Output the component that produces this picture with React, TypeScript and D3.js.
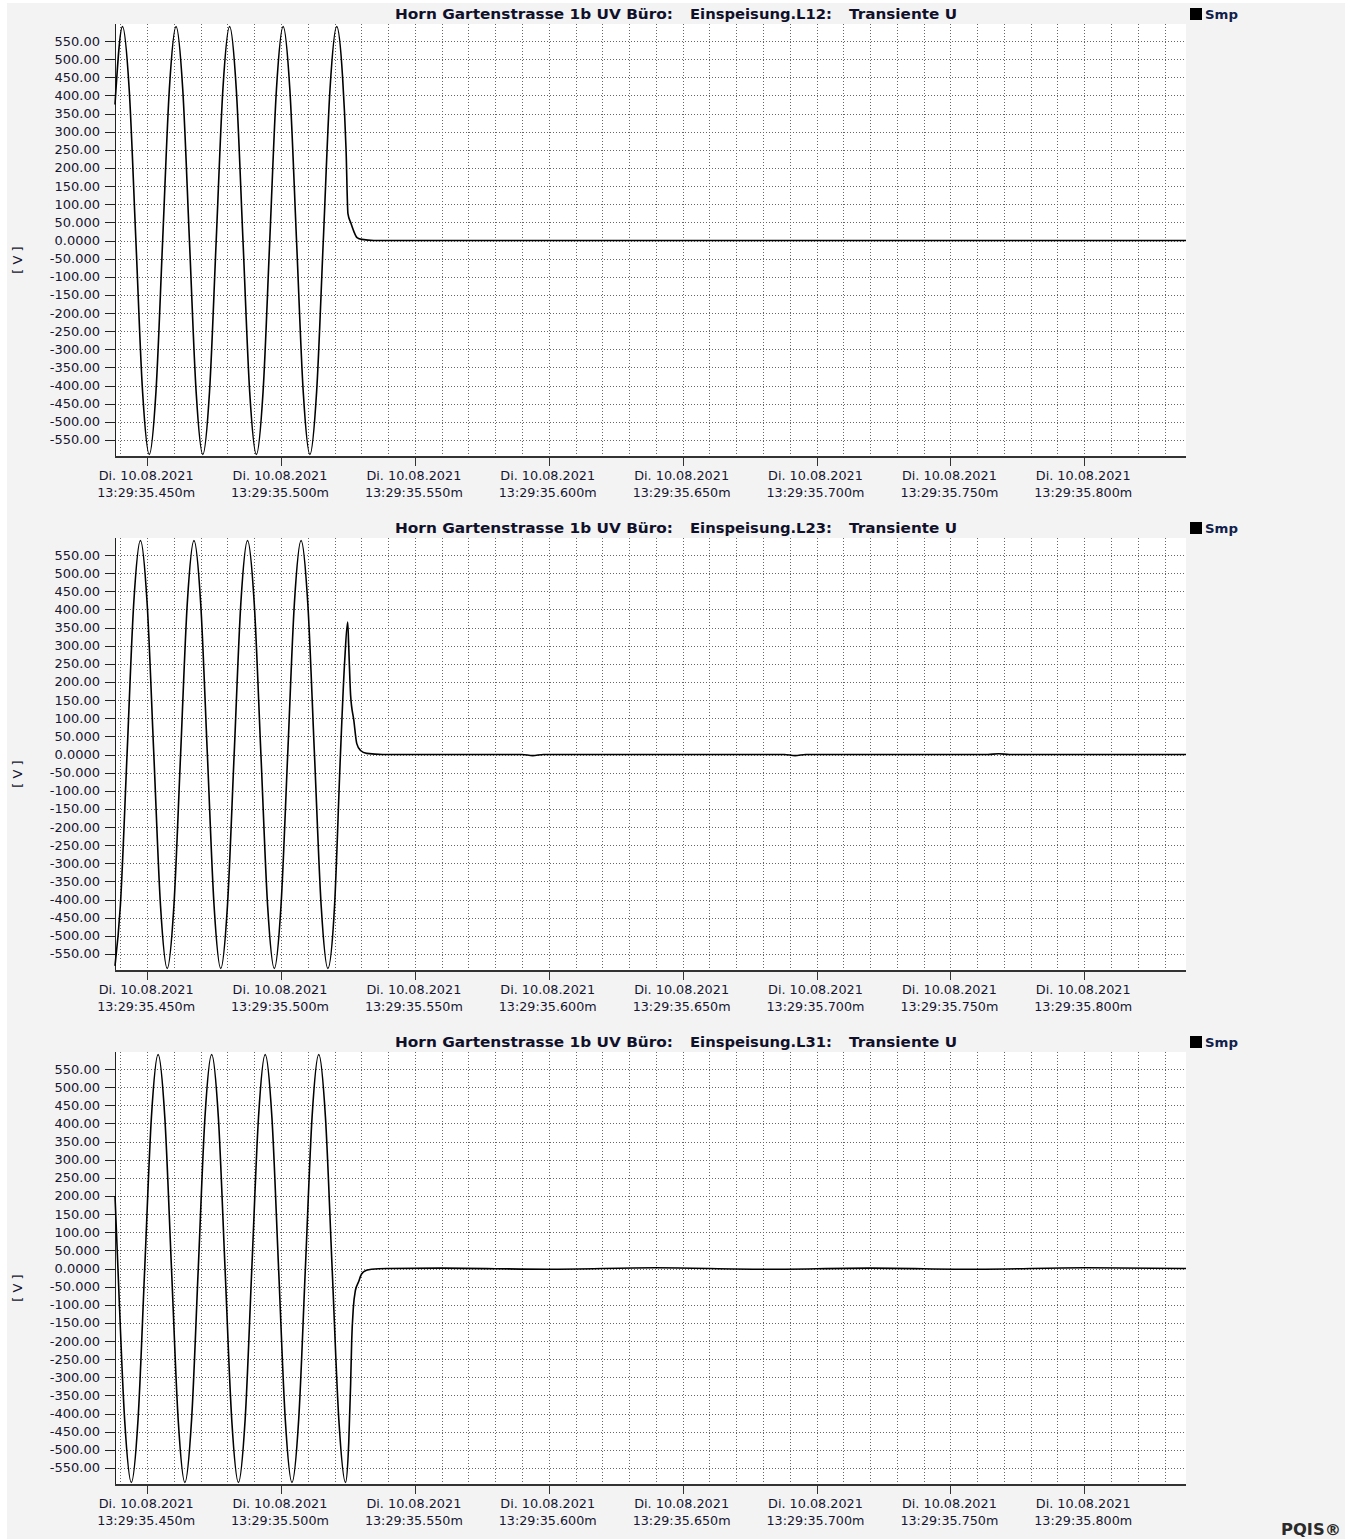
import * as d3 from 'd3';
import React from 'react';

const WIDTH = 1347;
const HEIGHT = 1539;

// x axis: milliseconds after 13:29:35
const xTickMs = [450, 500, 550, 600, 650, 700, 750, 800];
const xTickDate = 'Di. 10.08.2021';
const yTickValues = [550, 500, 450, 400, 350, 300, 250, 200, 150, 100, 50, 0,
  -50, -100, -150, -200, -250, -300, -350, -400, -450, -500, -550];

// samples: [ms, volts]
const l12: [number, number][] = [
  [438.0, 375], [440.8, 590], [443.3, 417], [445.8, 0], [448.3, -417], [450.8, -590],
  [453.3, -417], [455.8, 0], [458.3, 417], [460.8, 590], [463.3, 417], [465.8, 0],
  [468.3, -417], [470.8, -590], [473.3, -417], [475.8, 0], [478.3, 417], [480.8, 590],
  [483.3, 417], [485.8, 0], [488.3, -417], [490.8, -590], [493.3, -417], [495.8, 0],
  [498.3, 417], [500.8, 590], [503.3, 417], [505.8, 0], [508.3, -417], [510.8, -590],
  [513.3, -417], [515.8, 0], [518.3, 417], [520.8, 590], [523.0, 450], [524.3, 250],
  [525.0, 74], [526.0, 50], [527.2, 25], [528.4, 8], [530.2, 3], [534.7, 0], [838.0, 0],
];

const l23: [number, number][] = [
  [438.0, -583], [440.0, -417], [442.5, 0], [445.0, 417], [447.5, 590], [450.0, 417],
  [452.5, 0], [455.0, -417], [457.5, -590], [460.0, -417], [462.5, 0], [465.0, 417],
  [467.5, 590], [470.0, 417], [472.5, 0], [475.0, -417], [477.5, -590], [480.0, -417],
  [482.5, 0], [485.0, 417], [487.5, 590], [490.0, 417], [492.5, 0], [495.0, -417],
  [497.5, -590], [500.0, -417], [502.5, 0], [505.0, 417], [507.5, 590], [510.0, 417],
  [512.5, 0], [515.0, -417], [517.5, -590], [520.0, -417], [522.2, 0], [523.8, 260],
  [524.9, 365], [525.3, 295], [526.0, 163], [527.2, 94], [528.3, 30], [529.7, 11],
  [532.0, 3], [538.0, 0], [590.0, 0], [594.0, -3], [598.0, 0], [688.0, 0], [692.0, -3],
  [696.0, 0], [764.0, 0], [768.0, 2], [772.0, 0], [838.0, 0],
];

const l31: [number, number][] = [
  [438.0, 200], [439.1, 0], [441.6, -417], [444.1, -590], [446.6, -417], [449.1, 0],
  [451.6, 417], [454.1, 590], [456.6, 417], [459.1, 0], [461.6, -417], [464.1, -590],
  [466.6, -417], [469.1, 0], [471.6, 417], [474.1, 590], [476.6, 417], [479.1, 0],
  [481.6, -417], [484.1, -590], [486.6, -417], [489.1, 0], [491.6, 417], [494.1, 590],
  [496.6, 417], [499.1, 0], [501.6, -417], [504.1, -590], [506.6, -417], [509.1, 0],
  [511.6, 417], [514.1, 590], [516.6, 417], [519.1, 0], [521.6, -417], [524.1, -590],
  [525.3, -480], [526.0, -320], [526.4, -200], [527.0, -110], [527.8, -60], [528.9, -38],
  [530.1, -15], [531.9, -5], [533.8, -2], [539.4, 0], [560.0, 1], [600.0, -2], [640.0, 2],
  [680.0, -2], [720.0, 1], [760.0, -2], [800.0, 2], [838.0, 0],
];

const channels = ['Einspeisung.L12:', 'Einspeisung.L23:', 'Einspeisung.L31:'];
const series = [l12, l23, l31];

const FONT = 'DejaVu Sans, Verdana, sans-serif';
const plotLeft = 115;
const plotRight = 1186;
const plotHeight = 433;
const panelTops = [24, 538, 1052];

const xScale = d3.scaleLinear().domain([438, 838]).range([plotLeft, plotRight]);
const gridMs = d3.range(440, 831, 10);
const snap = (v: number) => Math.round(v) + 0.5;

const Panel = ({ top, channel, data }: { top: number; channel: string; data: [number, number][] }) => {
  const yScale = d3.scaleLinear().domain([-597, 597]).range([top + plotHeight, top]);
  const bottom = top + plotHeight;
  const line = d3.line<[number, number]>()
    .x(d => xScale(d[0]))
    .y(d => yScale(d[1]))
    .curve(d3.curveMonotoneX);

  return (
    <g>
      <rect x={plotLeft} y={top} width={plotRight - plotLeft} height={plotHeight} fill="#fff" />

      {/* dotted grid */}
      {gridMs.map(ms => (
        <line key={'v' + ms} x1={snap(xScale(ms))} x2={snap(xScale(ms))} y1={top} y2={bottom}
          stroke="#666" strokeWidth={1} strokeDasharray="1 2" />
      ))}
      {yTickValues.map(v => (
        <line key={'h' + v} x1={plotLeft} x2={plotRight} y1={snap(yScale(v))} y2={snap(yScale(v))}
          stroke="#666" strokeWidth={1} strokeDasharray="1 2" />
      ))}

      {/* y axis */}
      <line x1={plotLeft + 0.5} x2={plotLeft + 0.5} y1={top} y2={bottom} stroke="#222" strokeWidth={1} />
      {yTickValues.map(v => (
        <g key={'yt' + v}>
          <line x1={105} x2={plotLeft} y1={snap(yScale(v))} y2={snap(yScale(v))} stroke="#222" strokeWidth={1} />
          <text x={100} y={yScale(v) + 4.5} textAnchor="end" fontSize={13} fontFamily={FONT} fill="#151530">
            {v.toPrecision(5)}
          </text>
        </g>
      ))}
      <text transform={`translate(22,${top + 236}) rotate(-90)`} textAnchor="middle"
        fontSize={13} fontFamily={FONT} fill="#151530">[ V ]</text>

      {/* x axis */}
      <line x1={plotLeft} x2={plotRight} y1={bottom} y2={bottom} stroke="#333" strokeWidth={2} />
      {xTickMs.map(ms => (
        <g key={'xt' + ms}>
          <line x1={snap(xScale(ms))} x2={snap(xScale(ms))} y1={bottom} y2={bottom + 9} stroke="#333" strokeWidth={1} />
          <text x={xScale(ms) - 1} y={bottom + 23} textAnchor="middle" fontSize={12.8} fontFamily={FONT} fill="#151530">
            {xTickDate}
          </text>
          <text x={xScale(ms) - 1} y={bottom + 40} textAnchor="middle" fontSize={12.8} fontFamily={FONT} fill="#151530"
            textLength={98} lengthAdjust="spacingAndGlyphs">
            {`13:29:35.${ms}m`}
          </text>
        </g>
      ))}

      {/* waveform */}
      <path d={line(data) || ''} fill="none" stroke="#000" strokeWidth={1.6} />

      {/* title */}
      <g fontFamily={FONT} fontWeight="bold" fontSize={14} fill="#10102a">
        <text x={395} y={top - 5} textLength={278} lengthAdjust="spacingAndGlyphs">Horn Gartenstrasse 1b UV Büro:</text>
        <text x={690} y={top - 5} textLength={142} lengthAdjust="spacingAndGlyphs">{channel}</text>
        <text x={849} y={top - 5} textLength={108} lengthAdjust="spacingAndGlyphs">Transiente U</text>
      </g>

      {/* legend */}
      <rect x={1190} y={top - 16} width={12} height={12} fill="#000" />
      <text x={1205} y={top - 5} fontFamily={FONT} fontWeight="bold" fontSize={13} fill="#10204a"
        textLength={33} lengthAdjust="spacingAndGlyphs">Smp</text>
    </g>
  );
};

const App = () => {
  return (
    <svg width={WIDTH} height={HEIGHT} style={{ position: 'absolute', left: 0, top: 0 }}>
      <rect x={0} y={0} width={WIDTH} height={HEIGHT} fill="#fff" />
      <rect x={7} y={3} width={1338} height={HEIGHT - 3} fill="#f3f3f3" />
      {panelTops.map((top, i) => (
        <Panel key={channels[i]} top={top} channel={channels[i]} data={series[i]} />
      ))}
      <text x={1281} y={1535} fontFamily={FONT} fontWeight="bold" fontSize={15} fill="#2a2a2a"
        textLength={60} lengthAdjust="spacingAndGlyphs">PQIS®</text>
    </svg>
  );
};

export default App;
